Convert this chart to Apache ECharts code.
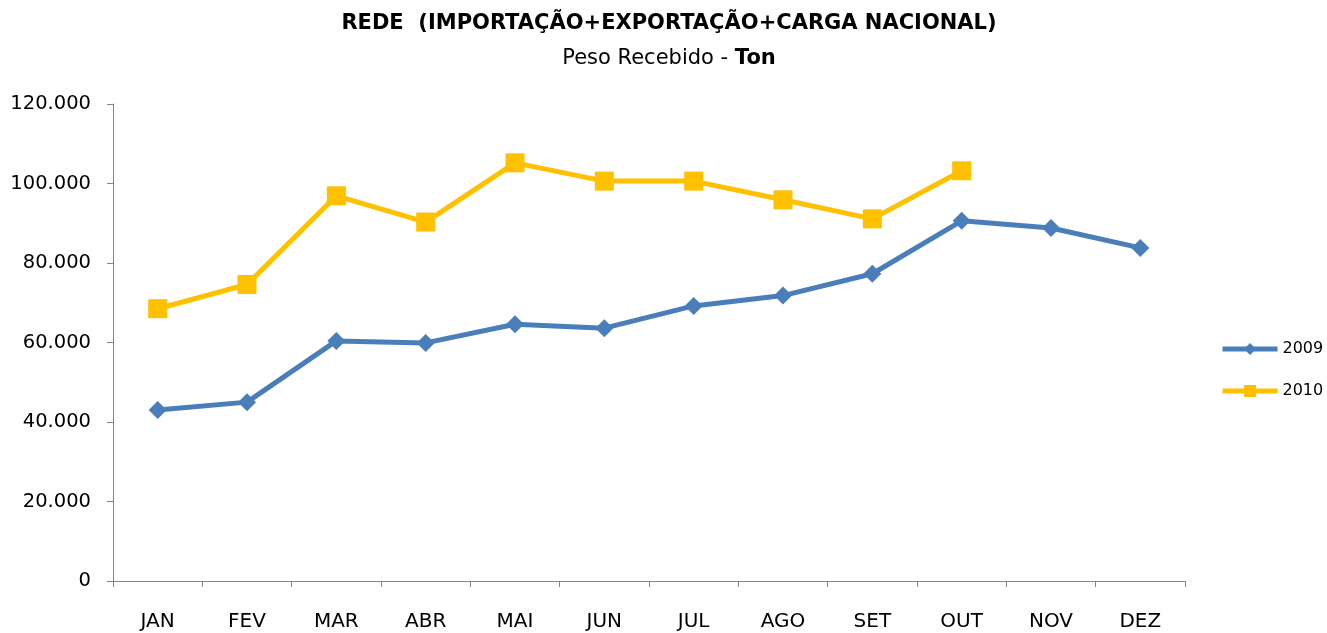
<!DOCTYPE html>
<html><head><meta charset="utf-8">
<script src="https://cdn.jsdelivr.net/npm/echarts@6/dist/echarts.min.js"></script>
<style>html,body{margin:0;padding:0;background:#fff}#c{width:1327px;height:633px}</style>
</head><body><div id="c"></div>
<script>
const categories = ['JAN','FEV','MAR','ABR','MAI','JUN','JUL','AGO','SET','OUT','NOV','DEZ'];
const s2009 = [43000, 45000, 60400, 59900, 64600, 63600, 69200, 71800, 77300, 90600, 88800, 83800];
const s2010 = [68500, 74600, 96900, 90300, 105200, 100600, 100600, 95900, 91100, 103200];
const seriesNames = ['2009', '2010'];
const FONT = '"DejaVu Sans", sans-serif';
const fmt = v => v === 0 ? '0' : String(v).replace(/\B(?=(\d{3})+(?!\d))/g, '.');
const chart = echarts.init(document.getElementById('c'));
chart.setOption({
  animation: false,
  title: {
    text: 'REDE  (IMPORTAÇÃO+EXPORTAÇÃO+CARGA NACIONAL)',
    subtext: '{n|Peso Recebido - }{b|Ton}',
    left: 664, textAlign: 'center', top: 8, itemGap: 14,
    textStyle: { fontFamily: FONT, fontSize: 21, fontWeight: 'bold', color: '#000' },
    subtextStyle: { fontFamily: FONT, fontSize: 21, color: '#000',
      rich: { n: { fontFamily: FONT, fontSize: 21, color: '#000' }, b: { fontFamily: FONT, fontSize: 21, fontWeight: 'bold', color: '#000' } } }
  },
  grid: { left: 113, right: 142, top: 104, bottom: 52 },
  legend: {
    orient: 'vertical', left: 1215, top: 336, itemGap: 26, itemWidth: 55, itemHeight: 15,
    lineStyle: { width: 5 },
    textStyle: { fontFamily: FONT, fontSize: 16, color: '#000' },
    data: seriesNames
  },
  xAxis: {
    type: 'category', data: categories, boundaryGap: true,
    axisLine: { lineStyle: { color: '#868686', width: 1 } },
    axisTick: { show: true, length: 6, lineStyle: { color: '#868686' } },
    axisLabel: { fontFamily: FONT, fontSize: 20, color: '#000', margin: 31 }
  },
  yAxis: {
    type: 'value', min: 0, max: 120000, interval: 20000,
    axisLine: { show: true, lineStyle: { color: '#868686', width: 1 } },
    axisTick: { show: true, length: 6, lineStyle: { color: '#868686' } },
    splitLine: { show: false },
    axisLabel: { fontFamily: FONT, fontSize: 19.5, color: '#000', margin: 22, formatter: fmt }
  },
  series: [
    { name: seriesNames[0], type: 'line', data: s2009, symbol: 'diamond', symbolSize: 18,
      lineStyle: { width: 5, color: '#4a7ebb' }, itemStyle: { color: '#4a7ebb' } },
    { name: seriesNames[1], type: 'line', data: s2010, symbol: 'rect', symbolSize: 19,
      lineStyle: { width: 5, color: '#ffc000' }, itemStyle: { color: '#ffc000' } }
  ]
});
</script></body></html>
